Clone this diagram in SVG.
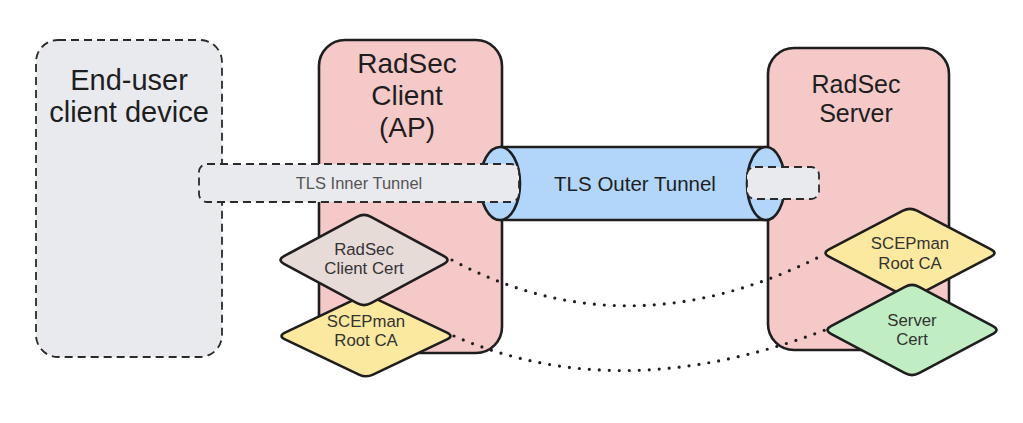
<svg xmlns="http://www.w3.org/2000/svg" width="1023" height="423" viewBox="0 0 1023 423">
<style>
.box{stroke:#1e1e1e;stroke-width:2.6;stroke-linejoin:round}
.dash{stroke:#2a2a2a;stroke-width:1.8;stroke-dasharray:8 5;fill:#e9eaee}
.pink{fill:#f6c9c9}
.t{font-family:"Liberation Sans",Arial,sans-serif;text-anchor:middle;fill:#1e1e1e}
.dt{font-family:"Liberation Sans",Arial,sans-serif;text-anchor:middle;fill:#333;font-size:16.8px}
.dot{fill:none;stroke:#1e1e1e;stroke-width:3.2;stroke-linecap:round;stroke-dasharray:0 10}
</style>
<rect width="1023" height="423" fill="#ffffff"/>
<g id="end-user">
<rect class="dash" x="36" y="40" width="186" height="317" rx="22"/>
<text class="t" x="129" y="90" font-size="29">End-user</text>
<text class="t" x="129" y="122" font-size="29">client device</text>
</g>
<g id="radsec-client">
<rect class="box pink" x="319" y="40" width="183" height="313" rx="26"/>
<text class="t" x="407" y="73" font-size="28">RadSec</text>
<text class="t" x="407" y="105" font-size="28">Client</text>
<text class="t" x="407" y="137" font-size="28">(AP)</text>
</g>
<g id="radsec-server">
<rect class="box pink" x="768" y="48" width="181" height="302" rx="26"/>
<text class="t" x="856" y="93" font-size="25">RadSec</text>
<text class="t" x="856" y="122" font-size="25">Server</text>
</g>
<g id="outer-tunnel">
<rect x="500" y="147" width="266" height="73" fill="#b1d6f9"/>
<path class="box" d="M500 147 L766 147 M500 220 L766 220" fill="none"/>
<ellipse class="box" cx="500" cy="183.5" rx="20" ry="36.5" fill="#b1d6f9"/>
<ellipse class="box" cx="766" cy="183.5" rx="19" ry="36.5" fill="#b1d6f9"/>
<text class="t" x="635" y="191" font-size="20.5">TLS Outer Tunnel</text>
</g>
<g id="inner-tunnel">
<rect class="dash" x="199" y="164" width="320" height="38" rx="8"/>
<text class="t" x="359" y="189" font-size="16.5" style="fill:#555">TLS Inner Tunnel</text>
<rect class="dash" x="747" y="167" width="72" height="32" rx="8"/>
</g>
<g id="connectors">
<path class="dot" d="M452 260 Q628 354 823 255"/>
<path class="dot" d="M454 336 Q620 408 825 330"/>
</g>
<g id="scepman-root-ca-client">
<path class="box" fill="#fce9a0" d="M285 332.6 L359 297.4 Q366 294 373 297.4 L447 332.6 Q454 336 447 339.4 L373 374.6 Q366 378 359 374.6 L285 339.4 Q278 336 285 332.6 Z"/>
<text class="dt" x="366" y="327">SCEPman</text>
<text class="dt" x="366" y="346">Root CA</text>
</g>
<g id="radsec-client-cert">
<path class="box" fill="#e7dbd8" d="M284 256.2 L357 216.8 Q364 213 371 216.8 L444 256.2 Q451 260 444 263.8 L371 303.2 Q364 307 357 303.2 L284 263.8 Q277 260 284 256.2 Z"/>
<text class="dt" x="364" y="255">RadSec</text>
<text class="dt" x="364" y="274">Client Cert</text>
</g>
<g id="scepman-root-ca-server">
<path class="box" fill="#fce9a0" d="M829 249.3 L903 210.7 Q910 207 917 210.7 L991 249.3 Q998 253 991 256.7 L917 295.3 Q910 299 903 295.3 L829 256.7 Q822 253 829 249.3 Z"/>
<text class="dt" x="910" y="249">SCEPman</text>
<text class="dt" x="910" y="269">Root CA</text>
</g>
<g id="server-cert">
<path class="box" fill="#c0eec2" d="M831 326.2 L905 286.8 Q912 283 919 286.8 L993 326.2 Q1000 330 993 333.8 L919 373.2 Q912 377 905 373.2 L831 333.8 Q824 330 831 326.2 Z"/>
<text class="dt" x="912" y="326">Server</text>
<text class="dt" x="912" y="345">Cert</text>
</g>
</svg>
